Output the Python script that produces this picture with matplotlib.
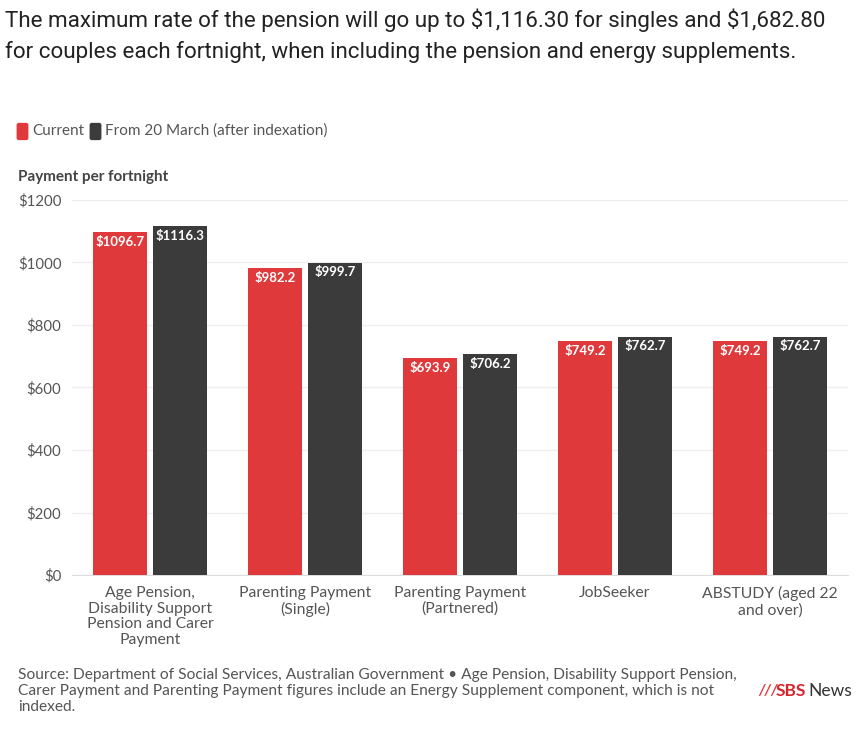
import numpy as np
import matplotlib.pyplot as plt
from matplotlib.patches import FancyBboxPatch

# data
categories = ['Age Pension,\nDisability Support\nPension and Carer\nPayment',
              'Parenting Payment\n(Single)',
              'Parenting Payment\n(Partnered)',
              'JobSeeker',
              'ABSTUDY (aged 22\nand over)']
current = [1096.7, 982.2, 693.9, 749.2, 749.2]
after_index = [1116.3, 999.7, 706.2, 762.7, 762.7]
series_names = ['Current', 'From 20 March (after indexation)']
yticks = [0, 200, 400, 600, 800, 1000, 1200]

red = '#e0393c'
dark = '#3b3b3b'
grey = '#555555'

plt.rcParams['font.family'] = ['Lato', 'DejaVu Sans']

fig = plt.figure(figsize=(8.6, 7.29), dpi=100)
fig.patch.set_facecolor('white')
ax = fig.add_axes([0.0843, 0.2112, 0.9012, 0.5145])

x = np.arange(len(categories))
w = 0.35
off = 0.195
b1 = ax.bar(x - off, current, w, color=red, zorder=3)
b2 = ax.bar(x + off, after_index, w, color=dark, zorder=3)

for bars, vals in [(b1, current), (b2, after_index)]:
    for r, v in zip(bars, vals):
        ax.text(r.get_x() + r.get_width() / 2, v - 12, '\\$%.1f' % v,
                ha='center', va='top', color='white', fontsize=9.5,
                fontweight='bold', zorder=4)

ax.set_xlim(-0.5, 4.5)
ax.set_ylim(0, 1200)
ax.set_yticks(yticks)
ax.set_yticklabels(['\\$%d' % t for t in yticks])
ax.set_xticks(x)
ax.set_xticklabels(categories, linespacing=1.15)
ax.tick_params(axis='both', length=0, colors=grey, labelsize=11.3)
ax.tick_params(axis='y', pad=8, labelsize=10.8)
ax.tick_params(axis='x', pad=8)
ax.grid(axis='y', color='#eeeeee', linewidth=1, zorder=0)
for s in ['top', 'right', 'left']:
    ax.spines[s].set_visible(False)
ax.spines['bottom'].set_color('#dddddd')

# title
fig.text(0.006, 0.988,
         'The maximum rate of the pension will go up to \\$1,116.30 for singles and \\$1,682.80\n'
         'for couples each fortnight, when including the pension and energy supplements.',
         ha='left', va='top', fontsize=16.1, color='#222222', linespacing=1.5,
         family=['Roboto', 'DejaVu Sans'])

# legend
fig.patches.append(FancyBboxPatch((19 / 860, 1 - 138 / 729), 7 / 860, 13 / 729,
                                  boxstyle='round,pad=0.002', transform=fig.transFigure,
                                  color=red))
fig.text(32 / 860, 1 - 131 / 729, series_names[0], va='center', ha='left',
         fontsize=11, color=grey)
fig.patches.append(FancyBboxPatch((92 / 860, 1 - 138 / 729), 7 / 860, 13 / 729,
                                  boxstyle='round,pad=0.002', transform=fig.transFigure,
                                  color=dark))
fig.text(105 / 860, 1 - 131 / 729, series_names[1], va='center', ha='left',
         fontsize=11, color=grey)

fig.text(18 / 860, 1 - 177 / 729, 'Payment per fortnight', va='center', ha='left',
         fontsize=11, fontweight='bold', color='#444444')

# source
fig.text(18 / 860, 1 - 668 / 729,
         'Source: Department of Social Services, Australian Government \u2022 Age Pension, Disability Support Pension,\n'
         'Carer Payment and Parenting Payment figures include an Energy Supplement component, which is not\n'
         'indexed.',
         va='top', ha='left', fontsize=11.2, color=grey, linespacing=1.2)

# logo
fig.text(758 / 860, 1 - 691 / 729, '///', color=red, fontsize=11, fontweight='bold',
         va='center', ha='left', style='italic')
fig.text(776 / 860, 1 - 691 / 729, 'SBS', color='#d7262b', fontsize=12.5,
         fontweight='bold', va='center', ha='left')
fig.text(808 / 860, 1 - 691 / 729, 'News', color='#333333', fontsize=12.5,
         va='center', ha='left')

fig.savefig('out.png', dpi=100, facecolor='white')
